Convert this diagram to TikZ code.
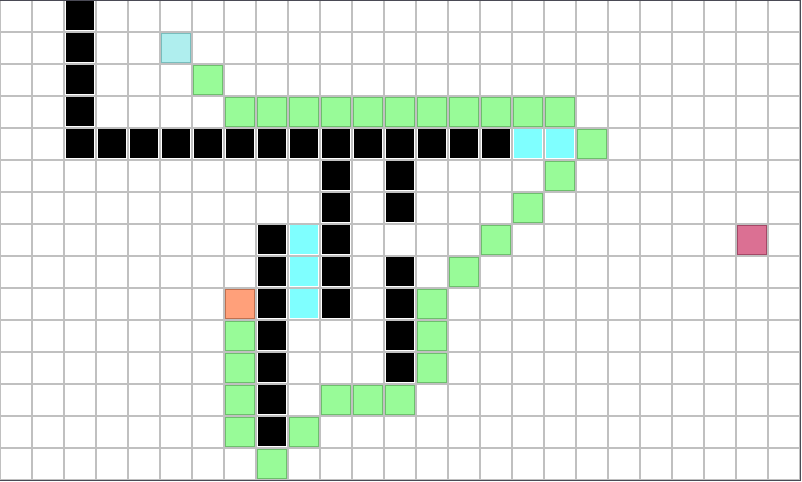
\documentclass[tikz,border=0pt]{standalone}
\usepackage{tikz}

% Colours of the cells
\definecolor{gridgray}{HTML}{C0C0C0}
\definecolor{framegray}{HTML}{4A4A55}
\definecolor{pathgreen}{HTML}{98FB98}
\definecolor{pathedge}{HTML}{6DBF6D}
\definecolor{openblue}{HTML}{7FFFFF}
\definecolor{startblue}{HTML}{AFEEEE}
\definecolor{startedge}{HTML}{78BDBD}
\definecolor{goalpink}{HTML}{DB7093}
\definecolor{goaledge}{HTML}{A34866}
\definecolor{curorange}{HTML}{FFA07A}
\definecolor{curedge}{HTML}{C0704F}

\tikzset{
  cellbox/.style={line width=0.45pt},
  wallcell/.style={cellbox, fill=black},
  opencell/.style={cellbox, fill=openblue},
  pathcell/.style={cellbox, fill=pathgreen, draw=pathedge},
  startcell/.style={cellbox, fill=startblue, draw=startedge},
  goalcell/.style={cellbox, fill=goalpink, draw=goaledge},
  curcell/.style={cellbox, fill=curorange, draw=curedge}
}

\begin{document}
\begin{tikzpicture}[x=0.5cm,y=-0.5cm]

% Parameters
\def\W{25}
\def\H{15}
\def\e{0.047}

\useasboundingbox (0,0) rectangle (25.0625,15.0625);

% Grid
\foreach \i in {0,...,\W}
  \draw[gridgray, line width=0.89pt] (\i,0) -- (\i,\H);
\foreach \j in {0,...,\H}
  \draw[gridgray, line width=0.89pt] (0,\j) -- (\W,\j);

% Walls
\foreach \c/\r in {2/0,2/1,2/2,2/3,2/4,
                   3/4,4/4,5/4,6/4,7/4,8/4,9/4,10/4,11/4,12/4,13/4,14/4,15/4,
                   10/5,10/6,10/7,10/8,10/9,
                   12/5,12/6,12/8,12/9,12/10,12/11,
                   8/7,8/8,8/9,8/10,8/11,8/12,8/13}
  \path[wallcell] (\c+\e,\r+\e) rectangle (\c+1-\e,\r+1-\e);

% Open cells
\foreach \c/\r in {16/4,17/4,9/7,9/8,9/9}
  \path[opencell] (\c+\e,\r+\e) rectangle (\c+1-\e,\r+1-\e);

% Path
\foreach \c/\r in {6/2,
                   7/3,8/3,9/3,10/3,11/3,12/3,13/3,14/3,15/3,16/3,17/3,
                   18/4,17/5,16/6,15/7,14/8,
                   13/9,13/10,13/11,
                   10/12,11/12,12/12,9/13,8/14,
                   7/10,7/11,7/12,7/13}
  \path[pathcell] (\c+\e,\r+\e) rectangle (\c+1-\e,\r+1-\e);

% Start, current and goal
\path[startcell] (5+\e,1+\e) rectangle (6-\e,2-\e);
\path[curcell] (7+\e,9+\e) rectangle (8-\e,10-\e);
\path[goalcell] (23+\e,7+\e) rectangle (24-\e,8-\e);

% Frame
\draw[framegray, line width=0.45pt] (0,0.016) -- (25.03,0.016) -- (25.03,15.03) -- (0,15.03);

\end{tikzpicture}
\end{document}
